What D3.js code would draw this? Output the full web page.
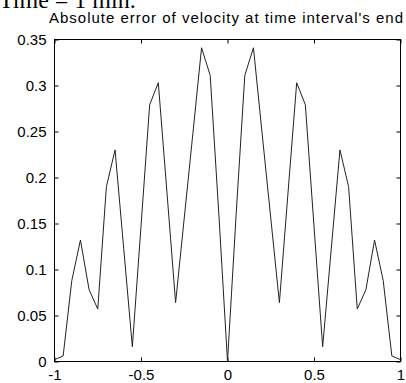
<!DOCTYPE html>
<html>
<head>
<meta charset="utf-8">
<script src="https://cdn.jsdelivr.net/npm/d3@7"></script>
<style>
  body { margin: 0; background: #fff; }
  svg { display: block; }
</style>
</head>
<body>
<svg width="406" height="383"></svg>
<script>
  // sample points (time interval end), error values
  const xs = [-1, -0.95, -0.9, -0.85, -0.8, -0.75, -0.7, -0.65, -0.6, -0.55, -0.5,
              -0.45, -0.4, -0.35, -0.3, -0.25, -0.2, -0.15, -0.1, -0.05, 0,
              0.05, 0.1, 0.15, 0.2, 0.25, 0.3, 0.35, 0.4, 0.45, 0.5,
              0.55, 0.6, 0.65, 0.7, 0.75, 0.8, 0.85, 0.9, 0.95, 1]
  const errs = [0.002, 0.006, 0.088, 0.132, 0.078, 0.057, 0.19, 0.23, 0.123, 0.016, 0.147,
                0.279, 0.303, 0.184, 0.064, 0.156, 0.248, 0.341, 0.311, 0.16, 0,
                0.16, 0.311, 0.341, 0.248, 0.156, 0.064, 0.184, 0.303, 0.279, 0.147,
                0.016, 0.123, 0.23, 0.19, 0.057, 0.078, 0.132, 0.088, 0.006, 0.002]
  const xTicks = [-1, -0.5, 0, 0.5, 1]
  const yTicks = [0, 0.05, 0.1, 0.15, 0.2, 0.25, 0.3, 0.35]

  const plotLeft = 54.5, plotRight = 400.5, plotTop = 39.5, plotBottom = 361.5
  const tickLen = 4

  const svg = d3.select('svg')
  const x = d3.scaleLinear().domain([-1, 1]).range([plotLeft, plotRight])
  const y = d3.scaleLinear().domain([0, 0.35]).range([plotBottom, plotTop])
  const fmt = d => String(+d.toFixed(2))

  // header cut off at the top of the image (as in the original screenshot)
  svg.append('text').attr('x', -1).attr('y', 8)
    .attr('style', 'font: 24px "Liberation Serif", serif')
    .text('Time = 1 min.')

  svg.append('text').attr('x', 49).attr('y', 23)
    .attr('textLength', 354).attr('lengthAdjust', 'spacing')
    .attr('style', 'font: 15px "Liberation Sans", Arial, sans-serif')
    .text("Absolute error of velocity at time interval's end")

  // axes: ticks pointing inwards on all four sides
  const styleAxis = g => {
    g.select('.domain').remove()
    g.selectAll('line').attr('stroke', '#000')
    g.selectAll('text').attr('style', 'font: 15px "Liberation Sans", Arial, sans-serif').attr('fill', '#000')
  }
  svg.append('g').attr('transform', `translate(0,${plotBottom})`)
    .call(d3.axisBottom(x).tickValues(xTicks).tickFormat(fmt).tickSizeInner(-tickLen).tickSizeOuter(0).tickPadding(8))
    .call(styleAxis)
  svg.append('g').attr('transform', `translate(0,${plotTop})`)
    .call(d3.axisTop(x).tickValues(xTicks).tickFormat('').tickSizeInner(-tickLen).tickSizeOuter(0))
    .call(styleAxis)
  svg.append('g').attr('transform', `translate(${plotLeft},0)`)
    .call(d3.axisLeft(y).tickValues(yTicks).tickFormat(fmt).tickSizeInner(-tickLen).tickSizeOuter(0).tickPadding(8))
    .call(styleAxis)
  svg.append('g').attr('transform', `translate(${plotRight},0)`)
    .call(d3.axisRight(y).tickValues(yTicks).tickFormat('').tickSizeInner(-tickLen).tickSizeOuter(0))
    .call(styleAxis)

  svg.append('rect').attr('x', plotLeft).attr('y', plotTop)
    .attr('width', plotRight - plotLeft).attr('height', plotBottom - plotTop)
    .attr('fill', 'none').attr('stroke', '#000')

  const pts = xs.map((v, i) => [v, errs[i]])
  svg.append('path').datum(pts)
    .attr('fill', 'none').attr('stroke', '#222').attr('stroke-width', 1)
    .attr('d', d3.line().x(d => x(d[0])).y(d => y(d[1])))
</script>
</body>
</html>
